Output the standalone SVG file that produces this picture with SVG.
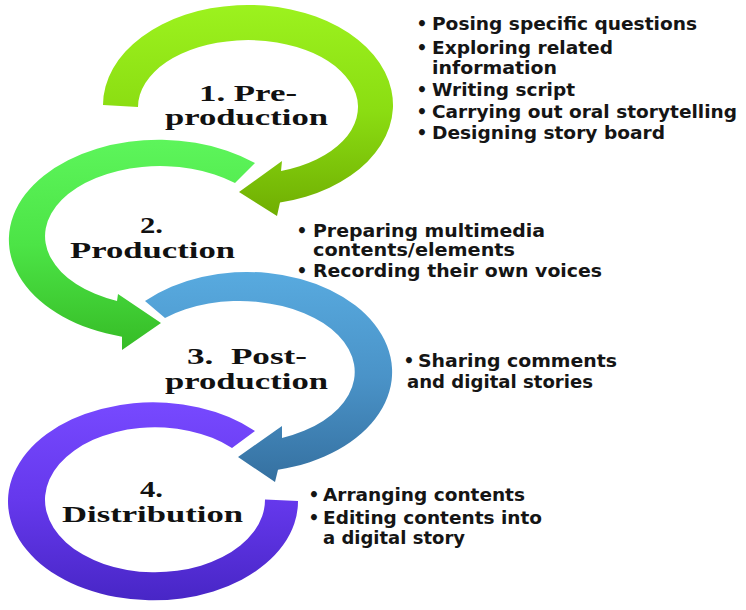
<svg xmlns="http://www.w3.org/2000/svg" width="746" height="610" viewBox="0 0 746 610">
<style>
.head{font-family:"Liberation Serif","Times New Roman",serif;font-weight:bold;font-size:24px;fill:#111}
.bul{font-family:"DejaVu Sans",Verdana,sans-serif;font-weight:bold;font-size:17px;fill:#151515}
.dot{font-family:"DejaVu Sans",Verdana,sans-serif;font-weight:bold;font-size:17px;fill:#151515;text-anchor:middle}
</style>
<defs>
<linearGradient id="g1" x1="0" y1="0" x2="0" y2="1">
<stop offset="0" stop-color="#9CF21E"/><stop offset="0.5" stop-color="#8BDD12"/><stop offset="1" stop-color="#70AE02"/>
</linearGradient>
<linearGradient id="g2" x1="0" y1="0" x2="0" y2="1">
<stop offset="0" stop-color="#5DF55B"/><stop offset="0.5" stop-color="#4CE446"/><stop offset="1" stop-color="#36BC26"/>
</linearGradient>
<linearGradient id="g3" x1="0" y1="0" x2="0" y2="1">
<stop offset="0" stop-color="#58AADF"/><stop offset="0.5" stop-color="#4A93C8"/><stop offset="1" stop-color="#3570A0"/>
</linearGradient>
<linearGradient id="g4" x1="0" y1="0" x2="0" y2="1">
<stop offset="0" stop-color="#7749FF"/><stop offset="0.5" stop-color="#6538EC"/><stop offset="1" stop-color="#4826C6"/>
</linearGradient>
</defs>
<rect width="746" height="610" fill="#ffffff"/>

<g id="connectors">
<path id="arc4" fill="url(#g4)" d="M 255,431 A 145,99 0 1 0 298,501 L 265,499.5 A 110,72.5 0 1 1 232,448 Z"/>
<path id="arc3" fill="url(#g3)" d="M 145,301 A 145,100 0 1 1 278,469.7 L 275,482 L 238,457 L 282,426 L 282,438 A 115,71 0 1 0 165,318 Z"/>
<path id="arc2" fill="url(#g2)" d="M 255,163 A 150,100 0 1 0 122,336.7 L 122,350 L 161,323 L 118,294 L 117,301 A 115,70 0 1 1 235,183 Z"/>
<path id="arc1" fill="url(#g1)" d="M 103,105 A 145,100 0 1 1 280,202.5 L 277,216 L 239,192 L 282,161 L 281,171 A 110,67 0 1 0 138,107 Z"/>
</g>

<g id="node-1">
<text class="head" x="199" y="101" textLength="98" lengthAdjust="spacingAndGlyphs">1. Pre-</text>
<text class="head" x="165" y="125" textLength="163" lengthAdjust="spacingAndGlyphs">production</text>
<text class="dot" x="422" y="30">•</text>
<text class="bul" x="432" y="30" textLength="265" lengthAdjust="spacingAndGlyphs">Posing specific questions</text>
<text class="dot" x="422" y="53.5">•</text>
<text class="bul" x="432" y="53.5" textLength="181" lengthAdjust="spacingAndGlyphs">Exploring related</text>
<text class="bul" x="432" y="73.5" textLength="125" lengthAdjust="spacingAndGlyphs">information</text>
<text class="dot" x="422" y="95.5">•</text>
<text class="bul" x="432" y="95.5" textLength="143" lengthAdjust="spacingAndGlyphs">Writing script</text>
<text class="dot" x="422" y="117.5">•</text>
<text class="bul" x="432" y="117.5" textLength="305" lengthAdjust="spacingAndGlyphs">Carrying out oral storytelling</text>
<text class="dot" x="422" y="139">•</text>
<text class="bul" x="432" y="139" textLength="233" lengthAdjust="spacingAndGlyphs">Designing story board</text>
</g>

<g id="node-2">
<text class="head" x="140" y="233" textLength="23" lengthAdjust="spacingAndGlyphs">2.</text>
<text class="head" x="70" y="258" textLength="165" lengthAdjust="spacingAndGlyphs">Production</text>
<text class="dot" x="302" y="237">•</text>
<text class="bul" x="313" y="237" textLength="232" lengthAdjust="spacingAndGlyphs">Preparing multimedia</text>
<text class="bul" x="313" y="256" textLength="202" lengthAdjust="spacingAndGlyphs">contents/elements</text>
<text class="dot" x="302" y="277">•</text>
<text class="bul" x="313" y="277" textLength="289" lengthAdjust="spacingAndGlyphs">Recording their own voices</text>
</g>

<g id="node-3">
<text class="head" x="187" y="364" textLength="120" lengthAdjust="spacingAndGlyphs" xml:space="preserve">3.  Post-</text>
<text class="head" x="165" y="389" textLength="163" lengthAdjust="spacingAndGlyphs">production</text>
<text class="dot" x="409" y="367">•</text>
<text class="bul" x="418" y="367" textLength="199" lengthAdjust="spacingAndGlyphs">Sharing comments</text>
<text class="bul" x="407" y="388" textLength="186" lengthAdjust="spacingAndGlyphs">and digital stories</text>
</g>

<g id="node-4">
<text class="head" x="140" y="497" textLength="23" lengthAdjust="spacingAndGlyphs">4.</text>
<text class="head" x="62" y="522" textLength="181" lengthAdjust="spacingAndGlyphs">Distribution</text>
<text class="dot" x="314" y="501">•</text>
<text class="bul" x="323" y="501" textLength="202" lengthAdjust="spacingAndGlyphs">Arranging contents</text>
<text class="dot" x="314" y="524">•</text>
<text class="bul" x="323" y="524" textLength="219" lengthAdjust="spacingAndGlyphs">Editing contents into</text>
<text class="bul" x="323" y="544" textLength="142" lengthAdjust="spacingAndGlyphs">a digital story</text>
</g>
</svg>
